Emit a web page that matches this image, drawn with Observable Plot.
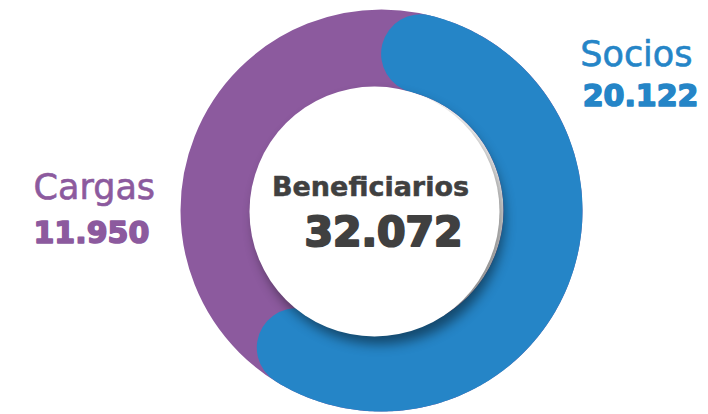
<!DOCTYPE html>
<html>
<head>
<meta charset="utf-8">
<script src="https://cdn.jsdelivr.net/npm/d3@7"></script>
<script src="https://cdn.jsdelivr.net/npm/@observablehq/plot@0.6"></script>
<style>
  html, body { margin: 0; padding: 0; background: #ffffff; }
  #chart { width: 708px; height: 414px; }
</style>
</head>
<body>
<div id="chart"></div>
<script>
// ---- data ----
const categories = ["Socios", "Cargas"];
const values = [20122, 11950];
const colors = ["#2585C7", "#8C5A9E"];
const totalLabel = "Beneficiarios";

// ---- helpers ----
const locale = d3.formatLocale({decimal: ",", thousands: ".", grouping: [3], currency: ["$", ""]});
const fmt = locale.format(",d");
const total = d3.sum(values);

// layout (pixels)
const W = 708, H = 414;
const CX = 381, CY = 210;        // donut centre
const R_OUT = 201, R_IN = 122;
const R_MID = (R_OUT + R_IN) / 2;
const THICK = R_OUT - R_IN;
const capAng = (THICK / 2) / R_MID * 180 / Math.PI;

// Socios arc: starts at top (0°) going clockwise, spans its share of the total
const span = 360 * values[0] / total;
const a0 = capAng, a1 = span - capAng;
const arcPts = d3.range(a0, a1, 0.5).concat([a1]).map(a => {
  const r = a * Math.PI / 180;
  return {x: CX + R_MID * Math.sin(r), y: CY - R_MID * Math.cos(r)};
});

const labelRows = [
  {text: categories[0], x: 692, y: 65, anchor: "end", size: 35, weight: 500, sw: 0.6, color: colors[0]},
  {text: fmt(values[0]), x: 698, y: 105, anchor: "end", size: 30, weight: 700, sw: 1.6, color: colors[0]},
  {text: categories[1], x: 33, y: 198, anchor: "start", size: 35, weight: 500, sw: 0.6, color: colors[1]},
  {text: fmt(values[1]), x: 33, y: 242, anchor: "start", size: 30, weight: 700, sw: 1.6, color: colors[1]},
  {text: totalLabel, x: 370, y: 195, anchor: "middle", size: 27, weight: 700, sw: 0.5, color: "#404040"},
  {text: fmt(total), x: 383, y: 245, anchor: "middle", size: 41, weight: 700, sw: 2.2, color: "#404040"}
];

const textMarks = labelRows.map(d => Plot.text([d], {
  x: "x", y: "y", text: "text",
  textAnchor: d.anchor, lineAnchor: "bottom",
  fontSize: d.size, fontWeight: d.weight, fill: d.color,
  stroke: d.color, strokeWidth: d.sw, strokeLinejoin: "round",
  fontFamily: "DejaVu Sans"
}));

const chart = Plot.plot({
  width: W, height: H,
  margin: 0,
  x: {domain: [0, W], range: [0, W], axis: null},
  y: {domain: [0, H], range: [0, H], axis: null},
  style: {background: "#ffffff"},
  marks: [
    // Cargas: full ring underneath
    Plot.dot([{x: CX, y: CY}], {x: "x", y: "y", r: R_MID, fill: "none", stroke: colors[1], strokeWidth: THICK}),
    // Socios arc with rounded ends
    Plot.line(arcPts, {x: "x", y: "y", stroke: colors[0], strokeWidth: THICK, strokeLinecap: "round", curve: "linear"}),
    // inner white disc
    Plot.dot([{x: CX - 7, y: CY + 1}], {x: "x", y: "y", r: 125, fill: "#ffffff", stroke: "none", className: "hole"}),
    ...textMarks
  ]
});
document.getElementById("chart").appendChild(chart);
d3.select(chart).selectAll(".hole circle").style("filter", "drop-shadow(5px 8px 6px rgba(0,0,0,0.45))");
</script>
</body>
</html>
